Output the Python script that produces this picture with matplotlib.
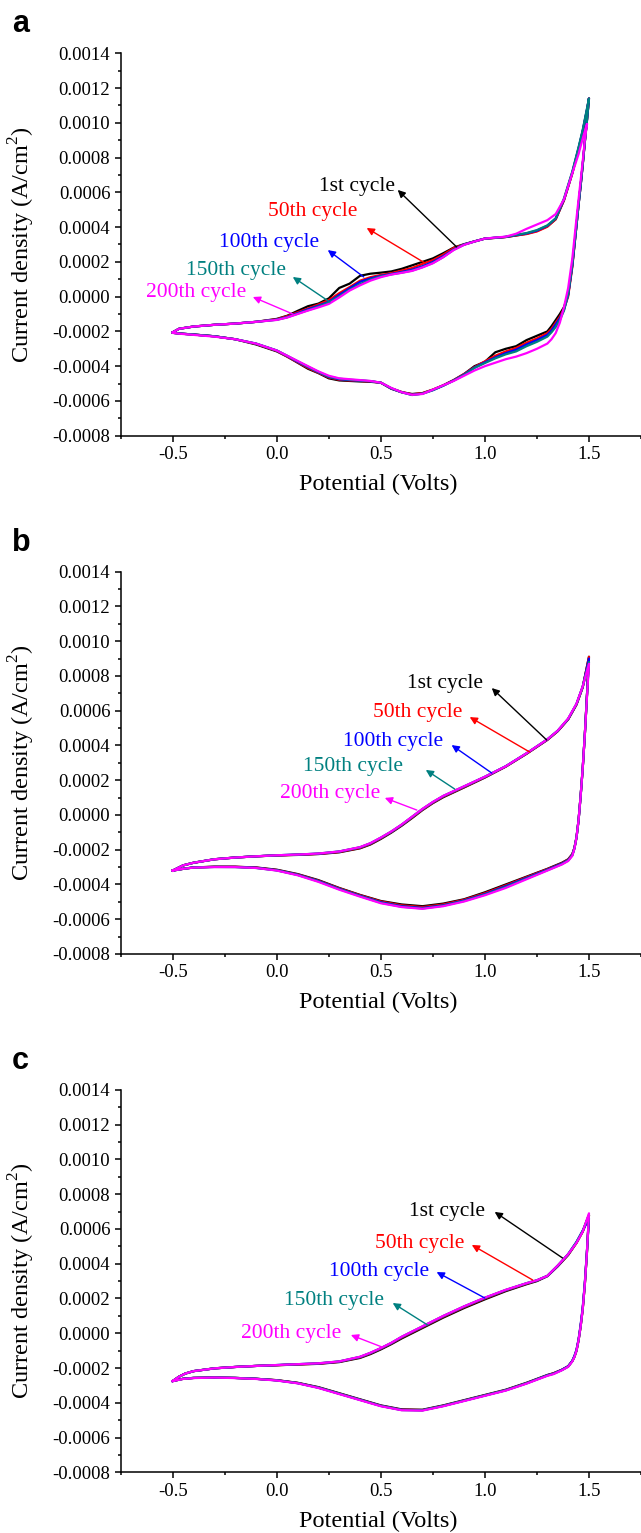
import numpy as np
import matplotlib
matplotlib.use('Agg')
from matplotlib import pyplot as plt
from matplotlib.ticker import MultipleLocator, FormatStrFormatter

plt.rcParams['font.family'] = 'Liberation Serif'
plt.rcParams['axes.unicode_minus'] = False
plt.rcParams['mathtext.fontset'] = 'custom'
plt.rcParams['mathtext.rm'] = 'Liberation Serif'

cycles = ['1st cycle', '50th cycle', '100th cycle', '150th cycle', '200th cycle']
colors = ['black', 'red', 'blue', '#008080', 'magenta']
nan = np.nan

# current density in 1e-4 A/cm2, rows = 1st, 50th, 100th, 150th, 200th cycle
# ---- panel a ----
a_up_E = [-0.5, -0.47, -0.4, -0.3, -0.2, -0.1, 0.0, 0.05, 0.1, 0.15, 0.2, 0.25, 0.3, 0.35, 0.4, 0.45,
          0.5, 0.55, 0.6, 0.65, 0.7, 0.75, 0.8, 0.85, 0.9, 0.95, 1.0, 1.05, 1.1, 1.15, 1.2, 1.25,
          1.3, 1.34, 1.38, 1.42, 1.45, 1.47, 1.49, 1.5]
a_up_I = [
    [-2.05, -1.85, -1.72, -1.62, -1.55, -1.45, -1.28, -1.1, -0.82, -0.55, -0.4, -0.1, 0.5, 0.75, 1.2, 1.32,
     1.38, 1.45, 1.6, 1.8, 2.0, 2.2, 2.5, 2.82, 3.02, 3.18, 3.34, 3.38, 3.43, 3.52, 3.62, 3.78,
     4.05, 4.45, 5.55, 7.1, 8.5, 9.5, 10.7, 11.4],
    [-2.05, -1.85, -1.72, -1.62, -1.55, -1.45, -1.3, -1.12, -0.9, -0.68, -0.45, -0.2, 0.2, 0.55, 0.92, 1.12,
     1.25, 1.35, 1.5, 1.65, 1.88, 2.1, 2.42, 2.8, 3.0, 3.18, 3.34, 3.38, 3.43, 3.52, 3.6, 3.75,
     4.02, 4.45, 5.55, 7.1, 8.5, 9.5, 10.7, 11.4],
    [-2.05, -1.85, -1.72, -1.62, -1.55, -1.45, -1.32, -1.17, -0.95, -0.73, -0.52, -0.3, 0.1, 0.48, 0.85, 1.05,
     1.2, 1.3, 1.42, 1.55, 1.75, 2.0, 2.33, 2.72, 3.0, 3.18, 3.34, 3.39, 3.44, 3.54, 3.64, 3.8,
     4.08, 4.5, 5.6, 7.15, 8.55, 9.55, 10.75, 11.4],
    [-2.05, -1.85, -1.72, -1.62, -1.55, -1.45, -1.33, -1.19, -0.98, -0.78, -0.57, -0.33, 0.02, 0.4, 0.72, 0.98,
     1.17, 1.28, 1.38, 1.5, 1.7, 1.94, 2.28, 2.7, 2.99, 3.17, 3.34, 3.39, 3.44, 3.55, 3.66, 3.83,
     4.1, 4.5, 5.65, 7.2, 8.6, 9.6, 10.8, 11.4],
    [-2.05, -1.85, -1.72, -1.62, -1.55, -1.45, -1.34, -1.2, -1.0, -0.8, -0.62, -0.42, -0.05, 0.35, 0.65, 0.92,
     1.12, 1.27, 1.37, 1.48, 1.68, 1.92, 2.27, 2.68, 2.98, 3.17, 3.34, 3.4, 3.45, 3.62, 3.9, 4.15,
     4.4, 4.75, 5.6, 7.1, 8.2, 9.1, 9.9, nan],
]
a_dn_E = [1.5, 1.49, 1.48, 1.47, 1.46, 1.45, 1.44, 1.42, 1.4, 1.38, 1.36, 1.34, 1.32, 1.3, 1.25, 1.2,
          1.15, 1.1, 1.05, 1.0, 0.95, 0.9, 0.85, 0.8, 0.75, 0.7, 0.65, 0.6, 0.55, 0.5, 0.45, 0.4,
          0.35, 0.3, 0.25, 0.2, 0.15, 0.1, 0.05, 0.0, -0.1, -0.2, -0.3, -0.4, -0.47, -0.5]
a_dn_I = [
    [11.4, 10.1, 8.9, 7.6, 6.4, 5.3, 4.1, 1.8, 0.1, -0.6, -1.0, -1.35, -1.7, -2.0, -2.25, -2.5,
     -2.85, -3.0, -3.2, -3.75, -4.0, -4.45, -4.8, -5.1, -5.35, -5.55, -5.6, -5.5, -5.3, -4.95, -4.9, -4.88,
     -4.85, -4.82, -4.7, -4.4, -4.15, -3.8, -3.45, -3.15, -2.75, -2.45, -2.28, -2.18, -2.12, -2.08],
    [11.4, 10.1, 8.9, 7.6, 6.4, 5.3, 4.1, 1.7, 0.0, -0.7, -1.15, -1.5, -1.85, -2.1, -2.4, -2.65,
     -2.95, -3.15, -3.4, -3.72, -4.05, -4.45, -4.8, -5.1, -5.35, -5.55, -5.62, -5.48, -5.28, -4.95, -4.88, -4.85,
     -4.82, -4.78, -4.65, -4.38, -4.1, -3.78, -3.45, -3.12, -2.72, -2.45, -2.28, -2.18, -2.12, -2.08],
    [11.4, 10.1, 8.9, 7.6, 6.4, 5.3, 4.1, 1.8, 0.1, -0.75, -1.25, -1.6, -1.95, -2.2, -2.5, -2.75,
     -3.05, -3.25, -3.5, -3.78, -4.08, -4.48, -4.82, -5.12, -5.38, -5.58, -5.65, -5.5, -5.28, -4.95, -4.87, -4.83,
     -4.8, -4.75, -4.62, -4.35, -4.05, -3.75, -3.42, -3.1, -2.7, -2.45, -2.28, -2.18, -2.12, -2.08],
    [11.4, 10.1, 8.9, 7.6, 6.4, 5.3, 4.1, 1.85, 0.15, -0.8, -1.35, -1.75, -2.05, -2.3, -2.6, -2.85,
     -3.15, -3.32, -3.55, -3.82, -4.1, -4.5, -4.83, -5.12, -5.38, -5.58, -5.66, -5.5, -5.27, -4.95, -4.86, -4.82,
     -4.78, -4.72, -4.6, -4.33, -4.03, -3.72, -3.4, -3.1, -2.7, -2.45, -2.28, -2.18, -2.12, -2.08],
    [nan, 9.9, 9.0, 7.8, 6.7, 5.6, 4.5, 2.2, 0.5, -0.6, -1.5, -2.1, -2.45, -2.7, -3.0, -3.25,
     -3.45, -3.6, -3.8, -4.0, -4.25, -4.55, -4.85, -5.1, -5.35, -5.6, -5.65, -5.5, -5.25, -4.95, -4.85, -4.8,
     -4.75, -4.7, -4.55, -4.3, -4.0, -3.7, -3.4, -3.1, -2.7, -2.45, -2.3, -2.2, -2.13, -2.08],
]

# ---- panel b ----
b_up_E = [-0.5, -0.45, -0.4, -0.3, -0.2, -0.1, 0.0, 0.1, 0.2, 0.3, 0.4, 0.45, 0.5, 0.55, 0.6, 0.65,
          0.7, 0.75, 0.8, 0.9, 1.0, 1.1, 1.2, 1.25, 1.3, 1.35, 1.4, 1.44, 1.47, 1.5]
b_up_I = [
    [-3.2, -2.9, -2.75, -2.55, -2.45, -2.38, -2.33, -2.3, -2.25, -2.15, -1.92, -1.7, -1.38, -1.02, -0.62, -0.18,
     0.28, 0.68, 1.02, 1.58, 2.15, 2.78, 3.52, 3.92, 4.32, 4.82, 5.5, 6.35, 7.35, 9.1],
    [-3.2, -2.9, -2.75, -2.55, -2.45, -2.38, -2.33, -2.29, -2.24, -2.13, -1.9, -1.67, -1.35, -0.99, -0.59, -0.15,
     0.3, 0.7, 1.05, 1.6, 2.17, 2.78, 3.52, 3.92, 4.32, 4.82, 5.5, 6.35, 7.35, 9.1],
    [-3.2, -2.9, -2.75, -2.55, -2.45, -2.38, -2.32, -2.28, -2.23, -2.11, -1.87, -1.64, -1.32, -0.97, -0.57, -0.12,
     0.33, 0.73, 1.08, 1.63, 2.19, 2.8, 3.54, 3.94, 4.34, 4.84, 5.52, 6.38, 7.38, 9.0],
    [-3.2, -2.9, -2.75, -2.55, -2.45, -2.38, -2.32, -2.28, -2.22, -2.1, -1.86, -1.63, -1.31, -0.96, -0.56, -0.11,
     0.34, 0.74, 1.09, 1.64, 2.2, 2.8, 3.55, 3.95, 4.35, 4.85, 5.53, 6.38, 7.38, 8.8],
    [-3.2, -2.9, -2.75, -2.55, -2.45, -2.38, -2.32, -2.28, -2.22, -2.1, -1.85, -1.62, -1.3, -0.95, -0.55, -0.1,
     0.35, 0.75, 1.1, 1.65, 2.2, 2.8, 3.55, 3.95, 4.35, 4.85, 5.55, 6.4, 7.4, 8.7],
]
b_dn_E = [1.5, 1.49, 1.48, 1.47, 1.46, 1.45, 1.44, 1.43, 1.42, 1.4, 1.37, 1.33, 1.3, 1.2, 1.1, 1.0,
          0.9, 0.8, 0.7, 0.6, 0.5, 0.4, 0.3, 0.2, 0.1, 0.0, -0.1, -0.2, -0.3, -0.4, -0.45, -0.5]
b_dn_I = [
    [9.1, 6.8, 4.6, 2.7, 1.1, -0.3, -1.3, -1.9, -2.25, -2.55, -2.75, -2.95, -3.1, -3.55, -4.0, -4.45,
     -4.85, -5.1, -5.25, -5.15, -4.95, -4.6, -4.2, -3.75, -3.4, -3.15, -3.02, -2.98, -2.98, -3.02, -3.1, -3.2],
    [9.1, 6.8, 4.6, 2.7, 1.1, -0.3, -1.3, -1.9, -2.27, -2.57, -2.78, -2.98, -3.12, -3.58, -4.05, -4.5,
     -4.88, -5.15, -5.3, -5.2, -4.98, -4.62, -4.22, -3.78, -3.42, -3.17, -3.03, -2.98, -2.98, -3.02, -3.1, -3.2],
    [9.0, 6.8, 4.6, 2.7, 1.1, -0.3, -1.3, -1.92, -2.3, -2.6, -2.8, -3.0, -3.15, -3.62, -4.1, -4.55,
     -4.92, -5.2, -5.35, -5.25, -5.02, -4.65, -4.25, -3.8, -3.44, -3.18, -3.04, -2.99, -2.99, -3.02, -3.1, -3.2],
    [8.8, 6.8, 4.6, 2.7, 1.1, -0.3, -1.3, -1.93, -2.32, -2.62, -2.83, -3.03, -3.18, -3.66, -4.15, -4.58,
     -4.95, -5.22, -5.38, -5.28, -5.05, -4.67, -4.27, -3.82, -3.45, -3.19, -3.05, -3.0, -2.99, -3.02, -3.1, -3.2],
    [8.7, 6.7, 4.6, 2.7, 1.1, -0.3, -1.3, -1.95, -2.35, -2.65, -2.85, -3.05, -3.2, -3.7, -4.2, -4.62,
     -4.98, -5.25, -5.4, -5.3, -5.08, -4.7, -4.3, -3.85, -3.47, -3.2, -3.05, -3.0, -3.0, -3.03, -3.1, -3.2],
]

# ---- panel c ----
c_up_E = [-0.5, -0.47, -0.44, -0.4, -0.3, -0.2, -0.1, 0.0, 0.1, 0.2, 0.3, 0.4, 0.45, 0.5, 0.55, 0.6,
          0.65, 0.7, 0.75, 0.8, 0.9, 1.0, 1.1, 1.2, 1.25, 1.3, 1.35, 1.4, 1.44, 1.47, 1.5]
c_up_I = [
    [-2.75, -2.5, -2.32, -2.18, -2.02, -1.94, -1.88, -1.84, -1.8, -1.76, -1.66, -1.42, -1.2, -0.93, -0.63, -0.3,
     0.0, 0.3, 0.6, 0.9, 1.45, 1.95, 2.42, 2.82, 3.0, 3.28, 3.85, 4.5, 5.2, 5.85, 6.8],
    [-2.75, -2.5, -2.32, -2.18, -2.02, -1.94, -1.88, -1.84, -1.79, -1.75, -1.64, -1.39, -1.16, -0.89, -0.59, -0.25,
     0.05, 0.35, 0.65, 0.95, 1.5, 2.0, 2.46, 2.85, 3.03, 3.3, 3.87, 4.52, 5.2, 5.85, 6.8],
    [-2.75, -2.5, -2.32, -2.18, -2.02, -1.94, -1.88, -1.83, -1.78, -1.74, -1.63, -1.37, -1.14, -0.87, -0.57, -0.22,
     0.08, 0.38, 0.68, 0.98, 1.53, 2.03, 2.48, 2.87, 3.04, 3.3, 3.88, 4.55, 5.25, 5.9, 6.6],
    [-2.75, -2.5, -2.32, -2.18, -2.02, -1.94, -1.88, -1.83, -1.78, -1.73, -1.62, -1.36, -1.13, -0.86, -0.56, -0.21,
     0.09, 0.39, 0.69, 0.99, 1.54, 2.04, 2.49, 2.88, 3.05, 3.3, 3.9, 4.55, 5.25, 5.9, 6.8],
    [-2.75, -2.5, -2.32, -2.18, -2.02, -1.94, -1.88, -1.83, -1.78, -1.73, -1.62, -1.35, -1.12, -0.85, -0.55, -0.2,
     0.1, 0.4, 0.7, 1.0, 1.55, 2.05, 2.5, 2.88, 3.05, 3.3, 3.9, 4.55, 5.2, 5.85, 6.9],
]
c_dn_E = [1.5, 1.49, 1.48, 1.47, 1.46, 1.45, 1.44, 1.43, 1.42, 1.4, 1.37, 1.33, 1.3, 1.2, 1.1, 1.0,
          0.9, 0.8, 0.7, 0.6, 0.5, 0.4, 0.3, 0.2, 0.1, 0.0, -0.1, -0.2, -0.3, -0.4, -0.45, -0.5]
c_dn_I = [
    [6.8, 4.6, 2.8, 1.4, 0.4, -0.4, -1.0, -1.35, -1.6, -1.9, -2.1, -2.3, -2.4, -2.85, -3.25, -3.55,
     -3.85, -4.15, -4.4, -4.38, -4.15, -3.8, -3.45, -3.1, -2.85, -2.7, -2.62, -2.57, -2.55, -2.57, -2.62, -2.75],
    [6.8, 4.6, 2.8, 1.4, 0.4, -0.4, -1.0, -1.35, -1.6, -1.9, -2.1, -2.3, -2.42, -2.87, -3.27, -3.57,
     -3.87, -4.17, -4.42, -4.4, -4.17, -3.82, -3.47, -3.12, -2.86, -2.7, -2.62, -2.57, -2.55, -2.57, -2.62, -2.75],
    [6.6, 4.7, 2.9, 1.5, 0.5, -0.35, -0.95, -1.3, -1.58, -1.9, -2.1, -2.32, -2.42, -2.88, -3.28, -3.58,
     -3.88, -4.18, -4.43, -4.41, -4.18, -3.83, -3.48, -3.13, -2.87, -2.71, -2.62, -2.57, -2.55, -2.57, -2.62, -2.75],
    [6.8, 4.6, 2.8, 1.4, 0.4, -0.4, -1.0, -1.36, -1.6, -1.92, -2.12, -2.33, -2.43, -2.88, -3.28, -3.58,
     -3.88, -4.18, -4.43, -4.42, -4.18, -3.83, -3.48, -3.13, -2.87, -2.71, -2.62, -2.57, -2.55, -2.57, -2.62, -2.75],
    [6.9, 4.6, 2.8, 1.4, 0.4, -0.4, -1.0, -1.37, -1.62, -1.93, -2.13, -2.35, -2.45, -2.9, -3.3, -3.6,
     -3.9, -4.2, -4.45, -4.43, -4.2, -3.85, -3.5, -3.15, -2.88, -2.72, -2.63, -2.58, -2.55, -2.58, -2.63, -2.75],
]

# annotation layout: label right end, arrow head, arrow tail (V, 1e-4 A/cm2)
a_lab = [(0.567, 6.31), (0.385, 4.87), (0.203, 3.09), (0.044, 1.48), (-0.147, 0.21)]
a_head = [(0.581, 6.14), (0.432, 3.95), (0.245, 2.68), (0.077, 1.13), (-0.115, -0.02)]
a_tail = [(0.864, 2.86), (0.711, 1.94), (0.418, 1.13), (0.255, -0.31), (0.077, -1.0)]
b_lab = [(0.989, 7.59), (0.893, 5.92), (0.797, 4.2), (0.605, 2.76), (0.495, 1.26)]
b_head = [(1.033, 7.3), (0.927, 5.63), (0.84, 4.02), (0.716, 2.59), (0.519, 0.98)]
b_tail = [(1.297, 4.31), (1.215, 3.62), (1.033, 2.41), (0.855, 1.49), (0.673, 0.28)]
c_lab = [(0.999, 7.03), (0.903, 5.19), (0.73, 3.58), (0.514, 1.91), (0.308, 0.01)]
c_head = [(1.047, 6.98), (0.937, 5.08), (0.768, 3.52), (0.557, 1.74), (0.356, -0.1)]
c_tail = [(1.373, 4.33), (1.23, 3.06), (0.999, 2.03), (0.725, 0.47), (0.505, -0.79)]

panels = [
    ('a', a_up_E, a_up_I, a_dn_E, a_dn_I, a_lab, a_head, a_tail),
    ('b', b_up_E, b_up_I, b_dn_E, b_dn_I, b_lab, b_head, b_tail),
    ('c', c_up_E, c_up_I, c_dn_E, c_dn_I, c_lab, c_head, c_tail),
]

W, H = 641, 1533
fig = plt.figure(figsize=(W / 100, H / 100), dpi=100)

left_px, ax_w_px, ax_h_px = 120.7, 520.3, 382.4
tops_px = [53.3, 571.6, 1089.9]

for k, (letter, upE, upI, dnE, dnI, lab, head, tail) in enumerate(panels):
    top = tops_px[k]
    ax = fig.add_axes([left_px / W, 1 - (top + ax_h_px) / H, ax_w_px / W, ax_h_px / H])
    for i in range(5):
        x = list(upE) + list(dnE)
        y = (np.array(upI[i] + dnI[i]) * 1e-4)
        ax.plot(x, y, color=colors[i], lw=1.6)
    for i in range(5):
        ax.annotate('', xy=(head[i][0], head[i][1] * 1e-4), xytext=(tail[i][0], tail[i][1] * 1e-4),
                    arrowprops=dict(arrowstyle='-|>', color=colors[i], lw=1.0, mutation_scale=11,
                                    shrinkA=0, shrinkB=0))
        ax.text(lab[i][0], lab[i][1] * 1e-4, cycles[i], color=colors[i], fontsize=15.5,
                ha='right', va='center')

    ax.set_xlim(-0.75, 1.75)
    ax.set_ylim(-0.0008, 0.0014)
    ax.xaxis.set_major_locator(MultipleLocator(0.5))
    ax.xaxis.set_minor_locator(MultipleLocator(0.25))
    ax.yaxis.set_major_locator(MultipleLocator(0.0002))
    ax.yaxis.set_minor_locator(MultipleLocator(0.0001))
    ax.xaxis.set_major_formatter(FormatStrFormatter('%.1f'))
    ax.yaxis.set_major_formatter(FormatStrFormatter('%.4f'))
    for s in ['top', 'right']:
        ax.spines[s].set_visible(False)
    for s in ['left', 'bottom']:
        ax.spines[s].set_linewidth(1.1)
    ax.tick_params(which='major', direction='out', length=4.5, width=1.1, labelsize=13.5, pad=3)
    ax.tick_params(which='minor', direction='out', length=2.5, width=1.1)
    ax.set_xlabel('Potential (Volts)', fontsize=17.5)
    ax.set_ylabel('Current density (A/cm$^{2}$)', fontsize=17.5)
    ax.xaxis.set_label_coords(0.495, -0.1)
    ax.yaxis.set_label_coords(-0.16, 0.5)

    fig.text(12 / W, 1 - (top - 21) / H, letter, family='Liberation Sans', fontweight='bold',
             fontsize=22, ha='left', va='baseline')

plt.savefig('out.png', dpi=100)
